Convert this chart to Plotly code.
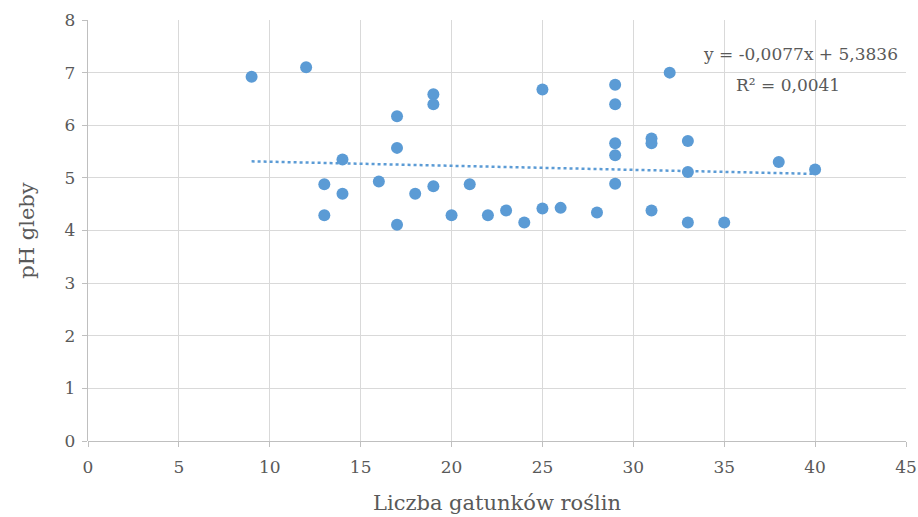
import plotly.graph_objects as go

# Data
liczba_gatunkow = [9, 12, 13, 13, 14, 14, 16, 17, 17, 17, 18, 19, 19, 19, 20, 21, 22, 23, 24,
                   25, 25, 26, 28, 29, 29, 29, 29, 29, 31, 31, 31, 32, 33, 33, 33, 35, 38, 40]
ph_gleby = [6.92, 7.10, 4.88, 4.29, 5.35, 4.70, 4.93, 6.17, 5.57, 4.11, 4.70, 6.59, 6.40, 4.84,
            4.29, 4.88, 4.29, 4.38, 4.15, 6.68, 4.42, 4.43, 4.34, 6.77, 6.40, 5.66, 5.43, 4.89,
            5.75, 5.66, 4.38, 7.00, 5.70, 5.11, 4.15, 4.15, 5.30, 5.16]

slope = -0.0077
intercept = 5.3836
r2 = 0.0041
trend_x = [min(liczba_gatunkow), max(liczba_gatunkow)]
trend_y = [slope * v + intercept for v in trend_x]

x_ticks = [0, 5, 10, 15, 20, 25, 30, 35, 40, 45]
y_ticks = [0, 1, 2, 3, 4, 5, 6, 7, 8]

blue = "#5B9BD5"
font_family = "DejaVu Serif"
text_col = "#595959"

fig = go.Figure()
fig.add_trace(go.Scatter(
    x=trend_x, y=trend_y, mode="lines",
    line=dict(color=blue, width=2.5, dash="dot"),
    hoverinfo="skip", showlegend=False,
))
fig.add_trace(go.Scatter(
    x=liczba_gatunkow, y=ph_gleby, mode="markers",
    marker=dict(color=blue, size=12, line=dict(width=0)),
    showlegend=False,
))

fig.add_annotation(
    x=39.2, y=7.35, xref="x", yref="y",
    text="y = " + f"{slope:.4f}".replace(".", ",") + "x + " + f"{intercept:.4f}".replace(".", ","),
    showarrow=False,
    font=dict(family=font_family, size=17, color=text_col),
)
fig.add_annotation(
    x=38.5, y=6.76, xref="x", yref="y",
    text="R² = " + f"{r2:.4f}".replace(".", ","), showarrow=False,
    font=dict(family=font_family, size=17, color=text_col),
)

fig.update_layout(
    width=918, height=517,
    margin=dict(l=88, r=12, t=20, b=76),
    paper_bgcolor="white", plot_bgcolor="white",
    font=dict(family=font_family, size=17, color=text_col),
    xaxis=dict(
        range=[0, 45], tickvals=x_ticks, ticktext=[str(v) for v in x_ticks],
        showgrid=True, gridcolor="#D9D9D9", gridwidth=1.3,
        showline=False, zeroline=False,
        ticks="outside", ticklen=5, tickcolor="#BFBFBF",
        ticklabelstandoff=6,
        automargin=False,
        title=dict(text="Liczba gatunków roślin", font=dict(size=21, color=text_col), standoff=18),
        tickfont=dict(size=17, color=text_col),
    ),
    yaxis=dict(
        range=[0, 8], tickvals=y_ticks, ticktext=[str(v) for v in y_ticks],
        showgrid=True, gridcolor="#D9D9D9", gridwidth=1.3,
        showline=True, linecolor="#BFBFBF", linewidth=1.3,
        zeroline=True, zerolinecolor="#BFBFBF", zerolinewidth=1.3,
        ticks="outside", ticklen=5, tickcolor="#BFBFBF",
        ticklabelstandoff=3,
        automargin=False,
        title=dict(text="pH gleby", font=dict(size=21, color=text_col), standoff=24),
        tickfont=dict(size=17, color=text_col),
    ),
)

fig.write_html("out.html", config={"displayModeBar": False},
               post_script="document.body.style.margin='0';")
